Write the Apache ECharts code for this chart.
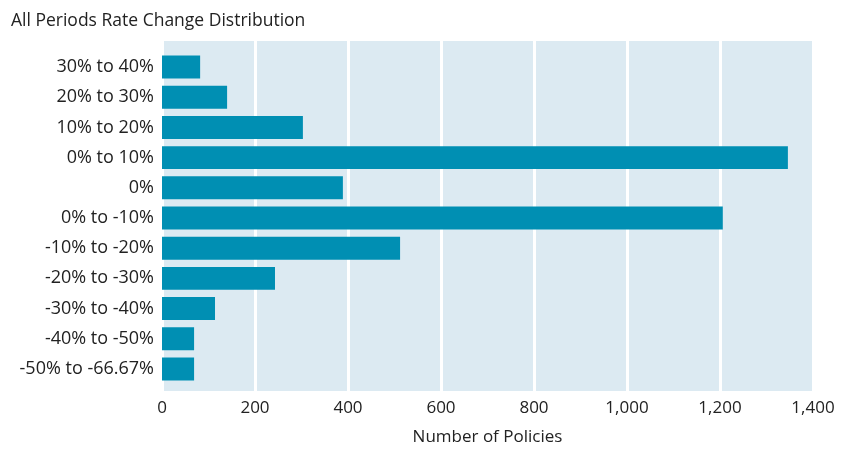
<!DOCTYPE html>
<html>
<head>
<meta charset="utf-8">
<script src="https://cdn.jsdelivr.net/npm/echarts@6/dist/echarts.min.js"></script>
<style>
  html, body { margin: 0; padding: 0; background: #fff; }
  #chart { width: 852px; height: 451px; }
</style>
</head>
<body>
<div id="chart"></div>
<script>
// categories, top to bottom as shown
var categories = [
  "30% to 40%", "20% to 30%", "10% to 20%", "0% to 10%", "0%",
  "0% to -10%", "-10% to -20%", "-20% to -30%", "-30% to -40%",
  "-40% to -50%", "-50% to -66.67%"
];
var policies = [82, 140, 303, 1346, 389, 1206, 512, 243, 114, 69, 69];
var xTicks = [0, 200, 400, 600, 800, 1000, 1200, 1400];

var font = "'Open Sans', 'Noto Sans', sans-serif";

var myChart = echarts.init(document.getElementById("chart"));
myChart.setOption({
  animation: false,
  title: {
    text: "All Periods Rate Change Distribution",
    left: 6,
    top: 7,
    textStyle: { fontFamily: font, fontSize: 17.5, fontWeight: "normal", color: "#222" }
  },
  grid: [
    // background panel + gridlines
    { left: 162, right: 39, top: 41, bottom: 55, show: true, backgroundColor: "#dceaf2", borderWidth: 0 },
    // bars
    { left: 162, right: 39, top: 52, bottom: 67 }
  ],
  xAxis: [
    {
      gridIndex: 0,
      type: "value",
      min: xTicks[0],
      max: xTicks[xTicks.length - 1],
      interval: 200,
      name: "Number of Policies",
      nameLocation: "middle",
      nameGap: 38,
      nameTextStyle: { fontFamily: font, fontSize: 17, color: "#222" },
      axisLine: { show: false },
      axisTick: { show: false },
      axisLabel: {
        fontFamily: font, fontSize: 17, color: "#222", margin: 9,
        formatter: function (v) { return v.toLocaleString("en-US"); }
      },
      splitLine: { show: true, lineStyle: { color: "#ffffff", width: 3 } }
    },
    {
      gridIndex: 1,
      type: "value",
      min: xTicks[0],
      max: xTicks[xTicks.length - 1],
      show: false,
      splitLine: { show: false }
    }
  ],
  yAxis: [
    {
      gridIndex: 0,
      type: "value",
      show: false,
      splitLine: { show: false }
    },
    {
      gridIndex: 1,
      type: "category",
      inverse: true,
      data: categories,
      axisLine: { show: false },
      axisTick: { show: false },
      axisLabel: { fontFamily: font, fontSize: 18, color: "#222", margin: 8 }
    }
  ],
  series: [
    {
      type: "bar",
      xAxisIndex: 1,
      yAxisIndex: 1,
      data: policies,
      barCategoryGap: "24%",
      itemStyle: { color: "#008fb3" }
    }
  ]
});
window.onresize = function () {
  myChart.resize();
};
</script>
</body>
</html>
